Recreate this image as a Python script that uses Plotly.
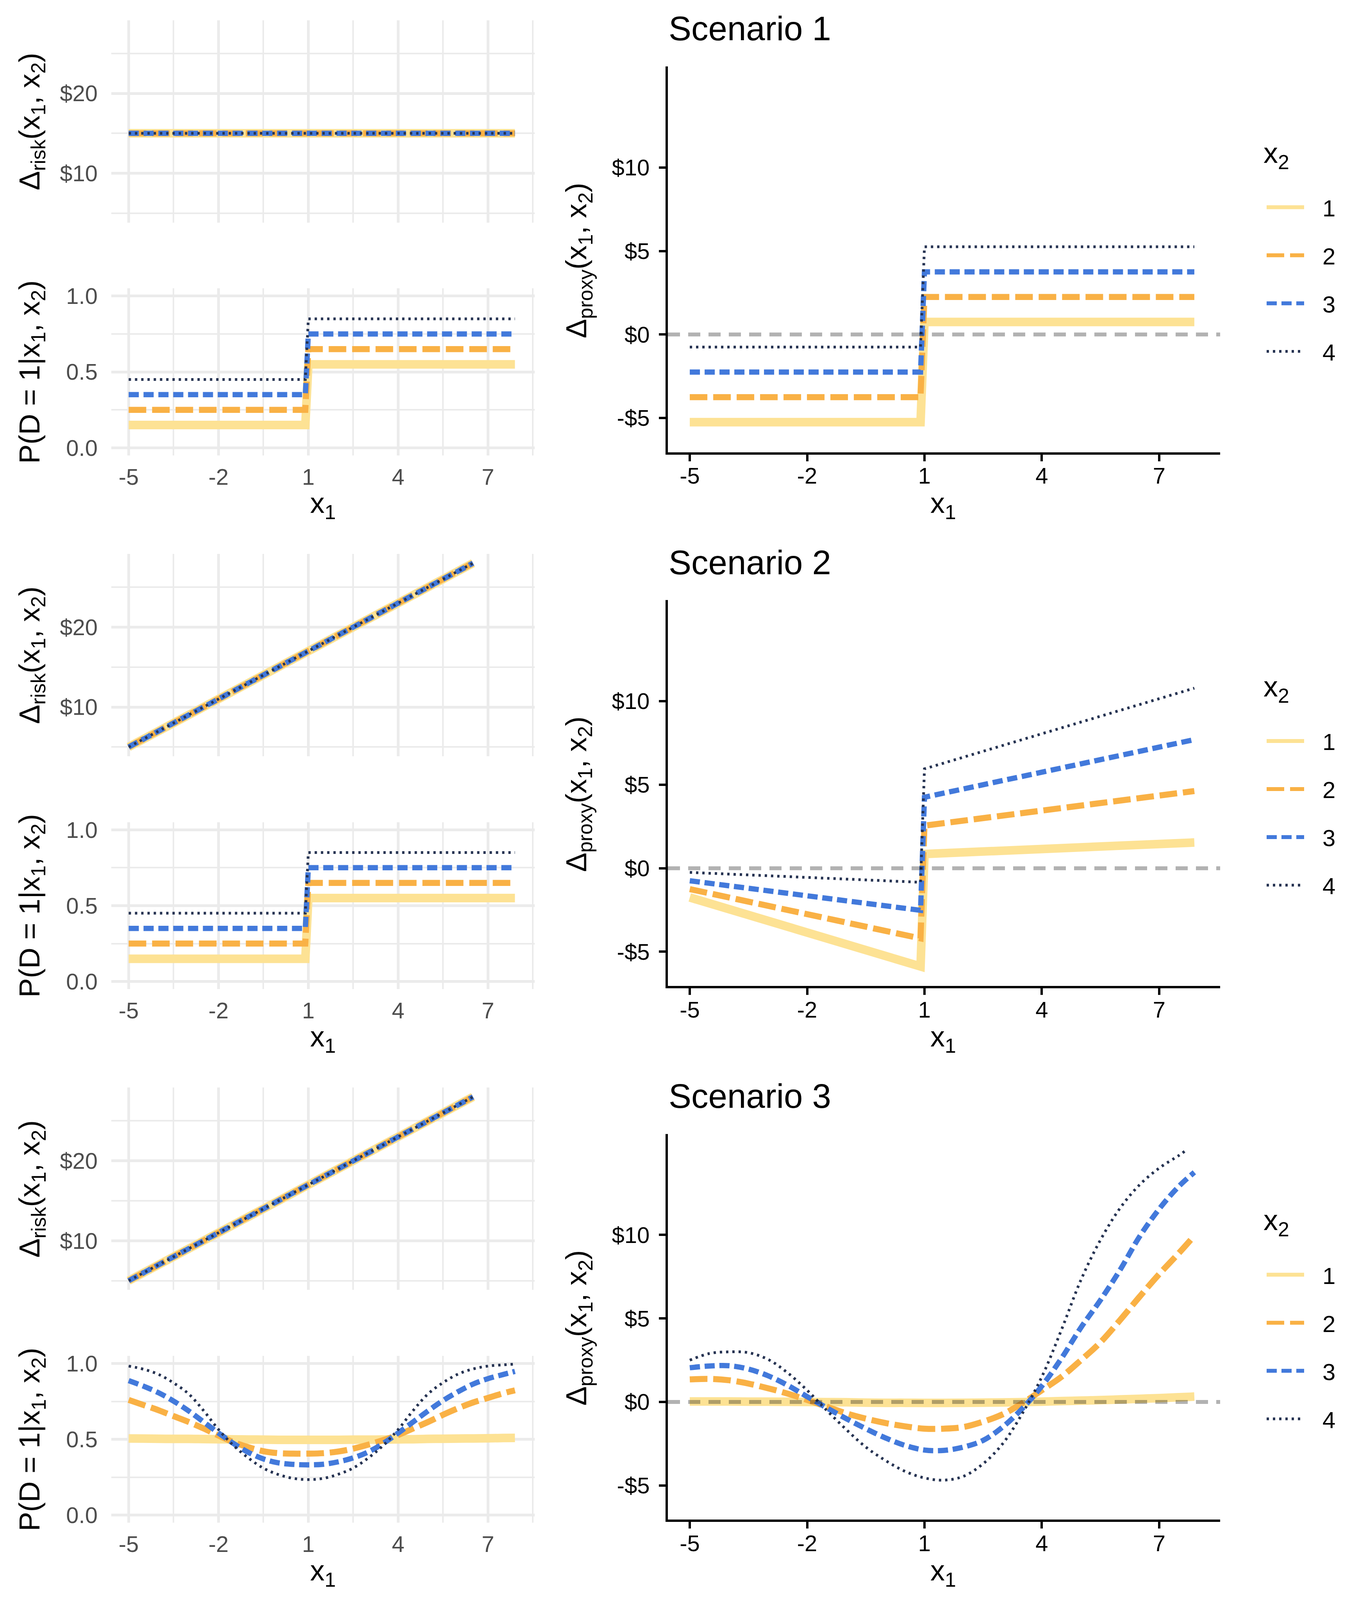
import plotly.graph_objects as go

W, H = 3500, 4125
ROW_H = 1375
PAD = 8  # page margin of the html body

# ---- data ----
x2_levels = ["1", "2", "3", "4"]

# scenario 1 / 2: step at x1 = 1
x_step = [-5, 0.9, 1.0, 7.9]
p_step = {
    "1": [0.15, 0.15, 0.55, 0.55],
    "2": [0.25, 0.25, 0.65, 0.65],
    "3": [0.35, 0.35, 0.75, 0.75],
    "4": [0.45, 0.45, 0.85, 0.85],
}

# risk difference
x_risk_s1 = [-5, 7.9]
risk_s1 = [15, 15]
x_risk_s23 = [-5, 6.5]
risk_s23 = [5, 28]

# proxy, scenario 1
proxy_s1 = {
    "1": [-5.25, -5.25, 0.75, 0.75],
    "2": [-3.75, -3.75, 2.25, 2.25],
    "3": [-2.25, -2.25, 3.75, 3.75],
    "4": [-0.75, -0.75, 5.25, 5.25],
}

# proxy, scenario 2
proxy_s2 = {
    "1": [-1.75, -5.88, 0.85, 1.54],
    "2": [-1.25, -4.20, 2.55, 4.62],
    "3": [-0.75, -2.52, 4.25, 7.70],
    "4": [-0.25, -0.84, 5.95, 10.78],
}

# scenario 3
x3 = [-5, -4.5, -4, -3.5, -3, -2.5, -2, -1.5, -1, -0.5, 0, 0.5, 1, 1.5,
      2, 2.5, 3, 3.5, 4, 4.5, 5, 5.5, 6, 6.5, 7, 7.5, 7.9]
p_s3 = {
    "1": [0.506, 0.505, 0.504, 0.503, 0.503, 0.502, 0.501, 0.500, 0.499, 0.498,
          0.497, 0.497, 0.497, 0.497, 0.497, 0.498, 0.498, 0.499, 0.500, 0.501,
          0.503, 0.504, 0.505, 0.506, 0.507, 0.509, 0.510],
    "2": [0.760, 0.726, 0.692, 0.653, 0.615, 0.572, 0.525, 0.482, 0.448, 0.422,
          0.409, 0.406, 0.406, 0.409, 0.420, 0.439, 0.465, 0.495, 0.529, 0.572,
          0.615, 0.662, 0.705, 0.743, 0.773, 0.803, 0.823],
    "3": [0.887, 0.850, 0.807, 0.752, 0.688, 0.615, 0.542, 0.473, 0.414, 0.371,
          0.345, 0.335, 0.332, 0.336, 0.352, 0.378, 0.417, 0.473, 0.542, 0.615,
          0.688, 0.756, 0.814, 0.864, 0.900, 0.927, 0.948],
    "4": [0.983, 0.962, 0.928, 0.872, 0.800, 0.690, 0.565, 0.460, 0.377, 0.310,
          0.268, 0.243, 0.235, 0.243, 0.270, 0.311, 0.377, 0.460, 0.565, 0.690,
          0.800, 0.874, 0.930, 0.964, 0.983, 0.991, 0.996],
}
x3_4 = x3[:-1] + [7.65]  # x2 = 4 proxy is cut at the $15 limit
proxy_s3 = {
    "1": [0.03, 0.03, 0.03, 0.02, 0.02, 0.01, 0.00, -0.01, -0.02, -0.04,
          -0.05, -0.05, -0.06, -0.06, -0.05, -0.04, -0.03, -0.01, 0.02, 0.05,
          0.08, 0.11, 0.15, 0.19, 0.23, 0.28, 0.32],
    "2": [1.35, 1.38, 1.30, 1.10, 0.82, 0.50, 0.12, -0.28, -0.68, -1.00,
          -1.26, -1.46, -1.60, -1.60, -1.50, -1.18, -0.74, -0.08, 0.70, 1.50,
          2.50, 3.57, 4.90, 6.30, 7.65, 8.90, 9.95],
    "3": [2.05, 2.15, 2.17, 1.97, 1.57, 1.00, 0.32, -0.35, -1.00, -1.60,
          -2.15, -2.60, -2.88, -2.90, -2.70, -2.30, -1.50, -0.40, 0.95, 2.60,
          4.45, 6.10, 7.90, 9.90, 11.55, 12.90, 13.75],
    "4": [2.50, 2.90, 3.00, 2.95, 2.55, 1.75, 0.70, -0.50, -1.65, -2.70,
          -3.50, -4.15, -4.55, -4.68, -4.45, -3.70, -2.50, -0.70, 1.50, 4.30,
          7.30, 9.70, 11.60, 13.00, 14.00, 14.75, 15.00],
}

x_ticks = [-5, -2, 1, 4, 7]
x_ticktext = ["-5", "-2", "1", "4", "7"]
x_minor = [-3.5, -0.5, 2.5, 5.5, 8.5]

# ---- styles ----
FONT = "Liberation Sans, Arial, sans-serif"
STYLE = {
    "1": dict(color="#FDE294", width=22, dash="solid"),
    "2": dict(color="#F9B145", width=15.5, dash="45px,15px"),
    "3": dict(color="#4279DB", width=13.5, dash="26px,12px"),
    "4": dict(color="#263352", width=7, dash="6px,10px"),
}

scenarios = [
    dict(x_risk=x_risk_s1, risk=risk_s1,
         x_p={k: x_step for k in x2_levels}, p=p_step,
         x_proxy={k: x_step for k in x2_levels}, proxy=proxy_s1),
    dict(x_risk=x_risk_s23, risk=risk_s23,
         x_p={k: x_step for k in x2_levels}, p=p_step,
         x_proxy={k: x_step for k in x2_levels}, proxy=proxy_s2),
    dict(x_risk=x_risk_s23, risk=risk_s23,
         x_p={k: x3 for k in x2_levels}, p=p_s3,
         x_proxy={"1": x3, "2": x3, "3": x3, "4": x3_4}, proxy=proxy_s3),
]


def px(v):
    return (v - PAD) / W


def py(v):
    return 1 - (v - PAD) / H


def xdom(a, b):
    return [px(a), px(b)]


def ydom(top, bottom):
    return [py(bottom), py(top)]


fig = go.Figure()
layout = dict(width=W, height=H, margin=dict(l=0, r=0, t=0, b=0),
              paper_bgcolor="white", plot_bgcolor="white",
              font=dict(family=FONT, color="black"), annotations=[], shapes=[])

left_x = dict(range=[-5.58, 8.56], tickvals=x_ticks, ticktext=x_ticktext, ticks="",
              showline=False, zeroline=False, showgrid=True, gridcolor="#EBEBEB", gridwidth=7,
              minor=dict(tickvals=x_minor, showgrid=True, gridcolor="#EBEBEB", gridwidth=3.5),
              tickfont=dict(size=58, color="#4D4D4D", family=FONT), ticklabelstandoff=16)
left_y = dict(ticks="", showline=False, zeroline=False, showgrid=True,
              gridcolor="#EBEBEB", gridwidth=7, ticklabelstandoff=34,
              tickfont=dict(size=58, color="#4D4D4D", family=FONT))
right_common = dict(showline=True, linewidth=6, linecolor="black", ticks="outside",
                    ticklen=17, tickwidth=6, tickcolor="black", showgrid=False,
                    zeroline=False, tickfont=dict(size=58, color="black", family=FONT))


def title_ann(text, x, y, size=74, angle=0, xanchor="center"):
    return dict(text=text, x=px(x), y=py(y), xref="paper", yref="paper",
                xanchor=xanchor, yanchor="middle", textangle=angle, showarrow=False,
                font=dict(size=size, family=FONT, color="black"))


for r, sc in enumerate(scenarios):
    off = r * ROW_H
    n_risk, n_p, n_px = 3 * r + 1, 3 * r + 2, 3 * r + 3
    lg = "legend" if r == 0 else f"legend{r + 1}"

    layout[f"xaxis{n_risk}"] = dict(left_x, domain=xdom(285, 1369), anchor=f"y{n_risk}",
                                    showticklabels=False)
    layout[f"yaxis{n_risk}"] = dict(left_y, domain=ydom(39 + off, 560 + off), anchor=f"x{n_risk}",
                                    range=[3.85, 29.15], tickvals=[10, 20], ticktext=["$10", "$20"],
                                    minor=dict(tickvals=[5, 15, 25], showgrid=True,
                                               gridcolor="#EBEBEB", gridwidth=3.5))
    layout[f"xaxis{n_p}"] = dict(left_x, domain=xdom(285, 1369), anchor=f"y{n_p}")
    layout[f"yaxis{n_p}"] = dict(left_y, domain=ydom(730 + off, 1160 + off), anchor=f"x{n_p}",
                                 range=[-0.05, 1.05], tickvals=[0, 0.5, 1],
                                 ticktext=["0.0", "0.5", "1.0"],
                                 minor=dict(tickvals=[0.25, 0.75], showgrid=True,
                                            gridcolor="#EBEBEB", gridwidth=3.5))
    layout[f"xaxis{n_px}"] = dict(right_common, domain=xdom(1710, 3124), anchor=f"y{n_px}",
                                  range=[-5.56, 8.56], tickvals=x_ticks, ticktext=x_ticktext,
                                  ticklabelstandoff=-12)
    layout[f"yaxis{n_px}"] = dict(right_common, domain=ydom(158 + off, 1152 + off),
                                  anchor=f"x{n_px}", range=[-7.05, 16.05],
                                  tickvals=[-5, 0, 5, 10], ticktext=["-$5", "$0", "$5", "$10"],
                                  ticklabelstandoff=12)

    for k in x2_levels:
        st = STYLE[k]
        line = dict(color=st["color"], width=st["width"], dash=st["dash"])
        shape = "spline" if r == 2 else "linear"
        fig.add_trace(go.Scatter(x=sc["x_risk"], y=sc["risk"], mode="lines", line=line,
                                 xaxis=f"x{n_risk}", yaxis=f"y{n_risk}", showlegend=False))
        fig.add_trace(go.Scatter(x=sc["x_p"][k], y=sc["p"][k], mode="lines",
                                 line=dict(line, shape=shape),
                                 xaxis=f"x{n_p}", yaxis=f"y{n_p}", showlegend=False))
        fig.add_trace(go.Scatter(x=sc["x_proxy"][k], y=sc["proxy"][k], mode="lines",
                                 line=dict(line, shape=shape), name="\u2002\u2009" + k,
                                 legend=lg, legendgroup=f"s{r}_{k}",
                                 xaxis=f"x{n_px}", yaxis=f"y{n_px}", showlegend=True))

    layout[lg] = dict(x=px(3238), y=py(475 + off), xanchor="left", yanchor="top",
                      font=dict(size=60, family=FONT, color="black"), itemwidth=96,
                      traceorder="grouped", tracegroupgap=42, bgcolor="rgba(0,0,0,0)")

    # reference line at zero
    layout["shapes"].append(dict(type="line", xref=f"x{n_px} domain", x0=0, x1=1,
                                 yref=f"y{n_px}", y0=0, y1=0, layer="above",
                                 line=dict(color="rgba(0,0,0,0.3)", width=10, dash="31px,21px")))

    ann = layout["annotations"]
    ann.append(title_ann(f"Scenario {r + 1}", 1710, 60 + off, size=87, xanchor="left"))
    ann.append(title_ann("x<sub>2</sub>", 3233, 386 + off, xanchor="left"))
    ann.append(title_ann("Δ<sub>risk</sub>(x<sub>1</sub>, x<sub>2</sub>)", 81, 300 + off, angle=-90))
    ann.append(title_ann("P(D = 1|x<sub>1</sub>, x<sub>2</sub>)", 81, 945 + off, angle=-90))
    ann.append(title_ann("Δ<sub>proxy</sub>(x<sub>1</sub>, x<sub>2</sub>)", 1481, 658 + off, angle=-90))
    for xc in (827, 2415):
        ann.append(title_ann("x<sub>1</sub>", xc, 1288 + off))

fig.update_layout(**layout)
fig.write_html("out.html")
